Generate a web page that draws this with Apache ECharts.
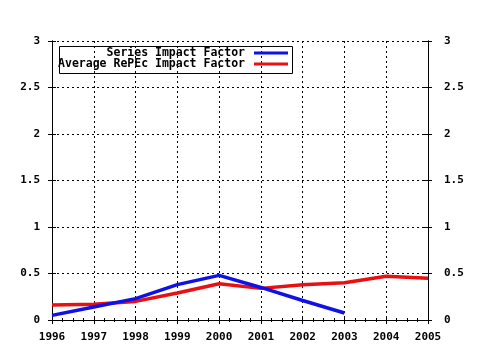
<!DOCTYPE html>
<html>
<head>
  <meta charset="utf-8">
  <title>Impact Factor</title>
  <script src="https://cdn.jsdelivr.net/npm/echarts/dist/echarts.min.js"></script>
  <style>
    html, body { margin: 0; padding: 0; background: #fff; }
    #chart { width: 480px; height: 350px; }
  </style>
</head>
<body>
  <div id="chart"></div>
  <script>
    // data
    var years = [1996, 1997, 1998, 1999, 2000, 2001, 2002, 2003, 2004, 2005];
    var seriesImpact = [0.05, 0.14, 0.23, 0.38, 0.48, 0.35, 0.21, 0.075];
    var repecImpact = [0.16, 0.17, 0.20, 0.29, 0.39, 0.34, 0.38, 0.40, 0.47, 0.45];
    var yTicks = [0, 0.5, 1, 1.5, 2, 2.5, 3];

    var font = 'DejaVu Sans Mono';
    var blue = '#1010e8';
    var red = '#e81010';

    function pairs(vals) {
      return vals.map(function (v, i) { return [years[i], v]; });
    }

    var myChart = echarts.init(document.getElementById('chart'));

    var labelStyle = { color: '#000', fontFamily: font, fontWeight: 'bold', fontSize: 11 };

    function xAx(pos, inside, showLabel) {
      return {
        type: 'value', position: pos,
        min: years[0], max: years[years.length - 1], interval: 1,
        axisLine: { show: true, lineStyle: { color: '#000', width: 1 } },
        axisTick: { show: true, inside: inside, length: 4, lineStyle: { color: '#000' } },
        minorTick: { show: inside, splitNumber: 4, length: 2, lineStyle: { color: '#000' } },
        axisLabel: Object.assign({ show: showLabel, margin: 12, formatter: function (v) { return String(v); } }, labelStyle),
        splitLine: { show: pos === 'bottom' && inside, lineStyle: { color: '#000', type: [2, 3] } }
      };
    }

    function yAx(pos, inside, showLabel) {
      return {
        type: 'value', position: pos,
        min: yTicks[0], max: yTicks[yTicks.length - 1], interval: 0.5,
        axisLine: { show: true, lineStyle: { color: '#000', width: 1 } },
        axisTick: { show: true, inside: inside, length: 4, lineStyle: { color: '#000' } },
        axisLabel: Object.assign({ show: showLabel, margin: pos === 'left' ? 12 : 16 }, labelStyle),
        splitLine: { show: pos === 'left' && inside, lineStyle: { color: '#000', type: [2, 3] } }
      };
    }

    var legendText = { color: '#000', fontFamily: font, fontWeight: 'bold', fontSize: 11.5, padding: [0, 4, 0, 0] };

    var option = {
      animation: false,
      grid: { left: 52, right: 52, top: 41, bottom: 30 },
      xAxis: [xAx('bottom', true, true), xAx('bottom', false, false), xAx('top', true, false), xAx('top', false, false)],
      yAxis: [yAx('left', true, true), yAx('left', false, false), yAx('right', true, true), yAx('right', false, false)],
      legend: [
        {
          data: ['Series Impact Factor'], right: 192, top: 47, padding: 0,
          icon: 'rect', itemWidth: 34, itemHeight: 3, textStyle: legendText, align: 'right', selectedMode: false
        },
        {
          data: ['Average RePEc Impact Factor'], right: 192, top: 58, padding: 0,
          icon: 'rect', itemWidth: 34, itemHeight: 3, textStyle: legendText, align: 'right', selectedMode: false
        }
      ],
      graphic: [{
        type: 'rect', left: 57, top: 44,
        shape: { width: 233, height: 27 },
        style: { fill: 'none', stroke: '#000', lineWidth: 1 }
      }],
      series: [
        {
          name: 'Series Impact Factor', type: 'line',
          data: pairs(seriesImpact), showSymbol: false, symbol: 'none',
          lineStyle: { color: blue, width: 3.5 }, itemStyle: { color: blue }, z: 3
        },
        {
          name: 'Average RePEc Impact Factor', type: 'line',
          data: pairs(repecImpact), showSymbol: false, symbol: 'none',
          lineStyle: { color: red, width: 3.5 }, itemStyle: { color: red }, z: 2
        }
      ]
    };

    myChart.setOption(option);
  </script>
</body>
</html>
